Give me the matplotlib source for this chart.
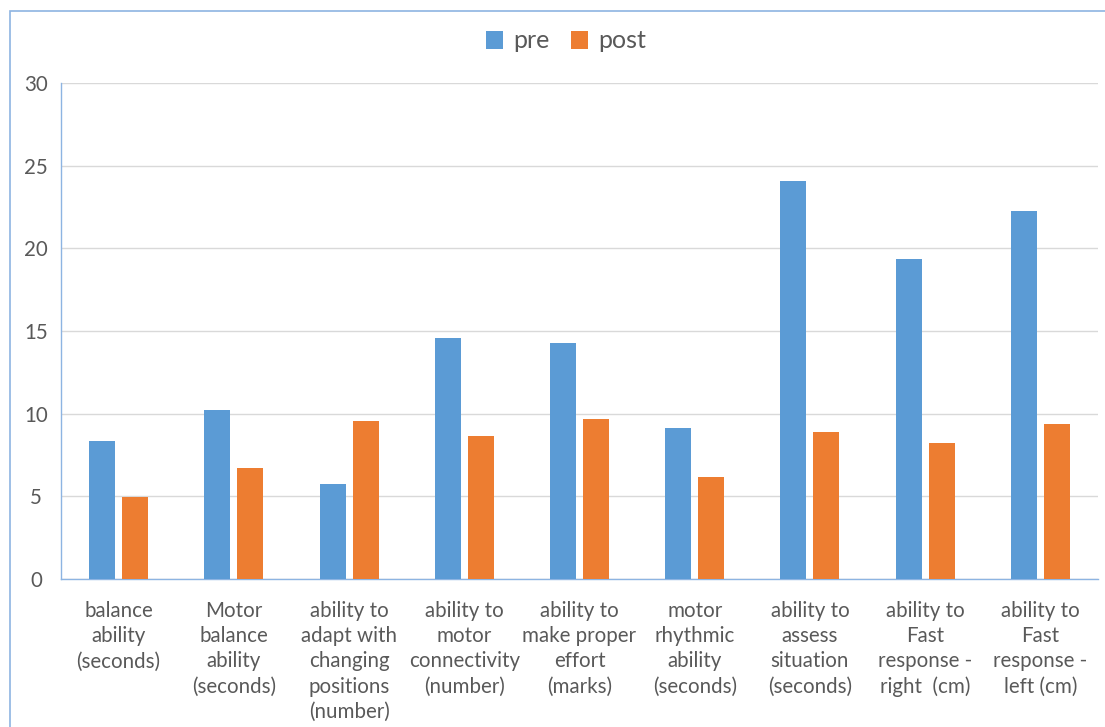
import matplotlib
matplotlib.use("Agg")
import matplotlib.pyplot as plt
import numpy as np
from matplotlib.patches import Rectangle

categories = [
    "balance\nability\n(seconds)",
    "Motor\nbalance\nability\n(seconds)",
    "ability to\nadapt with\nchanging\npositions\n(number)",
    "ability to\nmotor\nconnectivity\n(number)",
    "ability to\nmake proper\neffort\n(marks)",
    "motor\nrhythmic\nability\n(seconds)",
    "ability to\nassess\nsituation\n(seconds)",
    "ability to\nFast\nresponse -\nright  (cm)",
    "ability to\nFast\nresponse -\nleft (cm)",
]
pre = [8.35, 10.22, 5.75, 14.55, 14.28, 9.13, 24.08, 19.36, 22.26]
post = [4.98, 6.71, 9.55, 8.65, 9.7, 6.17, 8.89, 8.23, 9.4]
yticks = [0, 5, 10, 15, 20, 25, 30]

plt.rcParams['font.family'] = ['Lato', 'DejaVu Sans']
txt = '#595959'
blue = '#5B9BD5'
orange = '#ED7D31'

fig = plt.figure(figsize=(11.05, 7.27), dpi=100)
ax = fig.add_axes([61/1105, 1-579/727, (1098-61)/1105, (579-83)/727])

x = np.arange(len(categories))
w = 0.226
off = 0.143
ax.bar(x - off, pre, w, color=blue, label='pre', zorder=3)
ax.bar(x + off, post, w, color=orange, label='post', zorder=3)

ax.set_xlim(-0.5, len(categories) - 0.5)
ax.set_ylim(0, 30)
ax.set_yticks(yticks)
ax.set_yticklabels([str(v) for v in yticks])
ax.set_xticks(x)
ax.set_xticklabels(categories, linespacing=1.32, va='top')
ax.tick_params(axis='x', length=0, labelsize=14.8, labelcolor=txt, pad=16)
ax.tick_params(axis='y', length=0, labelsize=14.8, labelcolor=txt, pad=18)
for lab in ax.get_yticklabels():
    lab.set_horizontalalignment('center')
ax.grid(axis='y', color='#D9D9D9', linewidth=1, zorder=0)
for s in ['top', 'right']:
    ax.spines[s].set_visible(False)
ax.spines['left'].set_color('#8DB4E2')
ax.spines['bottom'].set_color('#8DB4E2')
ax.spines['left'].set_linewidth(1)
ax.spines['bottom'].set_linewidth(1)

leg = fig.legend(loc='center', bbox_to_anchor=(566/1105, 1-41/727), ncol=2,
                 frameon=False, fontsize=18, handlelength=0.7, handleheight=0.7,
                 handletextpad=0.4, columnspacing=0.85)
for t in leg.get_texts():
    t.set_color(txt)

fig.patches.append(Rectangle((10/1105, -0.01), 1.0, 1-11/727 + 0.01,
                             transform=fig.transFigure, fill=False,
                             edgecolor='#8DB4E2', linewidth=1.2))

fig.savefig('out.png', dpi=100)
